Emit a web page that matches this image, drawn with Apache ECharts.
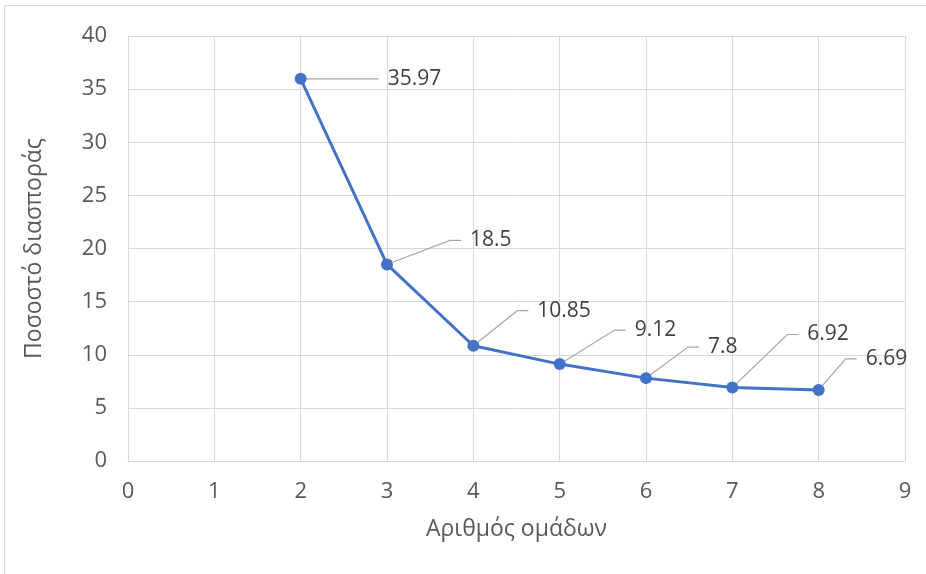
<!DOCTYPE html>
<html><head><meta charset="utf-8">
<script src="https://cdn.jsdelivr.net/npm/echarts@6/dist/echarts.min.js"></script>
<style>html,body{margin:0;padding:0;background:#fff}#c{width:926px;height:574px}</style>
</head><body><div id="c"></div>
<script>
const clusters = [2, 3, 4, 5, 6, 7, 8];
const variance = [35.97, 18.5, 10.85, 9.12, 7.8, 6.92, 6.69];
const xTicks = [0, 1, 2, 3, 4, 5, 6, 7, 8, 9];
const yTicks = [0, 5, 10, 15, 20, 25, 30, 35, 40];
const xTitle = 'Αριθμός ομάδων';
const yTitle = 'Ποσοστό διασποράς';

// label offsets (style): from point centre to text left / middle
const labelOffsets = [[87, 0], [83, -24], [64, -35], [75, -34], [62, -31], [75, -53], [47, -31]];
const gap = 9;

const font = '"Open Sans", Lato, sans-serif';
const chart = echarts.init(document.getElementById('c'), null, {renderer: 'canvas'});
chart.setOption({
  animation: false,
  backgroundColor: '#fff',
  graphic: [{type: 'rect', shape: {x: 4.5, y: 5.5, width: 940, height: 600}, style: {fill: 'none', stroke: '#d9d9d9', lineWidth: 1}, silent: true}],
  grid: {left: 128, right: 21, top: 36, bottom: 113},
  xAxis: {
    type: 'value', min: xTicks[0], max: xTicks[xTicks.length - 1], interval: 1,
    name: xTitle, nameLocation: 'middle', nameGap: 57,
    nameTextStyle: {fontFamily: font, fontSize: 23, color: '#595959'},
    axisLine: {show: true, lineStyle: {color: '#d9d9d9', width: 1}},
    axisTick: {show: false},
    axisLabel: {fontFamily: font, fontSize: 22, color: '#595959', margin: 20},
    splitLine: {show: true, lineStyle: {color: '#d9d9d9', width: 1}}
  },
  yAxis: {
    type: 'value', min: yTicks[0], max: yTicks[yTicks.length - 1], interval: 5,
    name: yTitle, nameLocation: 'middle', nameGap: 82,
    nameTextStyle: {fontFamily: font, fontSize: 23, color: '#595959'},
    axisLine: {show: false}, axisTick: {show: false},
    axisLabel: {fontFamily: font, fontSize: 22, color: '#595959', margin: 21},
    splitLine: {show: true, lineStyle: {color: '#d9d9d9', width: 1}}
  },
  series: [{
    type: 'line',
    data: clusters.map((c, i) => [c, variance[i]]),
    lineStyle: {color: '#4472C4', width: 3},
    itemStyle: {color: '#4472C4'},
    symbol: 'circle', symbolSize: 12,
    label: {show: true, position: 'right', formatter: p => '{g|}{v|' + p.value[1] + '}',
      rich: {
        g: {width: gap, height: 10},
        v: {fontFamily: font, fontSize: 21, color: '#404040'}
      }},
    labelLine: {show: true, length2: 11, lineStyle: {color: '#a6a6a6', width: 1.2}},
    labelLayout: function (params) {
      const r = params.rect;
      const o = labelOffsets[params.dataIndex];
      return {x: r.x + r.width / 2 + o[0] - gap, y: r.y + r.height / 2 + o[1], align: 'left', verticalAlign: 'middle'};
    }
  }]
});
</script></body></html>
